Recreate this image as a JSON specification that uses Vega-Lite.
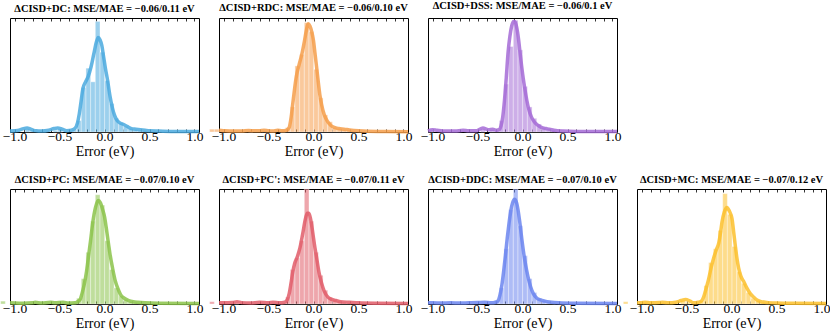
{
"$schema":"https://vega.github.io/schema/vega-lite/v6.json",
"padding":{"left":0,"top":0,"right":0,"bottom":0},
"background":"white",
"config":{
 "view":{"stroke":null},
 "style":{"guide-label":{"font":"Liberation Serif","fill":"black"},"guide-title":{"font":"Liberation Serif","fontWeight":"normal","fill":"black"}},
 "axis":{"grid":false,"domain":true,"domainColor":"black","domainWidth":1,"tickColor":"black","tickSize":-3,"tickWidth":0.8,"labelOverlap":false,"labelFlush":false},
 "axisLeft":{"labels":false,"ticks":false,"title":null},
 "axisRight":{"labels":false,"ticks":false,"title":null},
 "title":{"font":"Liberation Serif","fontSize":10.5,"fontWeight":"bold","color":"black","offset":3,"anchor":"middle"}
},
"datasets":{
"bars":[
{"p":"DC","x0":-0.882,"x1":-0.830,"h":2.5},{"p":"DC","x0":-0.830,"x1":-0.778,"h":1.5},{"p":"DC","x0":-0.570,"x1":-0.518,"h":1.5},{"p":"DC","x0":-0.518,"x1":-0.466,"h":2.5},{"p":"DC","x0":-0.362,"x1":-0.310,"h":2},{"p":"DC","x0":-0.310,"x1":-0.258,"h":10},{"p":"DC","x0":-0.258,"x1":-0.206,"h":39},{"p":"DC","x0":-0.206,"x1":-0.154,"h":56},{"p":"DC","x0":-0.154,"x1":-0.102,"h":44},{"p":"DC","x0":-0.102,"x1":-0.050,"h":97},{"p":"DC","x0":-0.050,"x1":0.002,"h":70},{"p":"DC","x0":0.002,"x1":0.054,"h":45},{"p":"DC","x0":0.054,"x1":0.106,"h":25},{"p":"DC","x0":0.106,"x1":0.158,"h":12},{"p":"DC","x0":0.158,"x1":0.210,"h":8},{"p":"DC","x0":0.210,"x1":0.262,"h":5},{"p":"DC","x0":0.262,"x1":0.314,"h":3},{"p":"DC","x0":0.314,"x1":0.366,"h":2},{"p":"DC","x0":0.366,"x1":0.418,"h":1.5},{"p":"DC","x0":0.418,"x1":0.470,"h":1},
{"p":"RDC","x0":-1.154,"x1":-1.102,"h":2.5},{"p":"RDC","x0":-1.102,"x1":-1.050,"h":2.5},{"p":"RDC","x0":-0.726,"x1":-0.674,"h":1},{"p":"RDC","x0":-0.570,"x1":-0.518,"h":1},{"p":"RDC","x0":-0.362,"x1":-0.310,"h":1.5},{"p":"RDC","x0":-0.310,"x1":-0.258,"h":4},{"p":"RDC","x0":-0.258,"x1":-0.206,"h":22},{"p":"RDC","x0":-0.206,"x1":-0.154,"h":58},{"p":"RDC","x0":-0.154,"x1":-0.102,"h":68},{"p":"RDC","x0":-0.102,"x1":-0.050,"h":96},{"p":"RDC","x0":-0.050,"x1":0.002,"h":88},{"p":"RDC","x0":0.002,"x1":0.054,"h":55},{"p":"RDC","x0":0.054,"x1":0.106,"h":30},{"p":"RDC","x0":0.106,"x1":0.158,"h":15},{"p":"RDC","x0":0.158,"x1":0.210,"h":9},{"p":"RDC","x0":0.210,"x1":0.262,"h":4},{"p":"RDC","x0":0.262,"x1":0.314,"h":3},{"p":"RDC","x0":0.314,"x1":0.366,"h":2},{"p":"RDC","x0":0.366,"x1":0.418,"h":2},{"p":"RDC","x0":0.418,"x1":0.470,"h":1},
{"p":"DSS","x0":-1.038,"x1":-0.986,"h":1.5},{"p":"DSS","x0":-0.466,"x1":-0.414,"h":2.5},{"p":"DSS","x0":-0.362,"x1":-0.310,"h":2},{"p":"DSS","x0":-0.310,"x1":-0.258,"h":1.5},{"p":"DSS","x0":-0.258,"x1":-0.206,"h":10},{"p":"DSS","x0":-0.206,"x1":-0.154,"h":42},{"p":"DSS","x0":-0.154,"x1":-0.102,"h":75},{"p":"DSS","x0":-0.102,"x1":-0.050,"h":98},{"p":"DSS","x0":-0.050,"x1":0.002,"h":72},{"p":"DSS","x0":0.002,"x1":0.054,"h":40},{"p":"DSS","x0":0.054,"x1":0.106,"h":22},{"p":"DSS","x0":0.106,"x1":0.158,"h":12},{"p":"DSS","x0":0.158,"x1":0.210,"h":7},{"p":"DSS","x0":0.210,"x1":0.262,"h":4},{"p":"DSS","x0":0.262,"x1":0.314,"h":3},{"p":"DSS","x0":0.314,"x1":0.366,"h":1.5},
{"p":"PC","x0":-1.154,"x1":-1.102,"h":2.5},{"p":"PC","x0":-0.362,"x1":-0.310,"h":1},{"p":"PC","x0":-0.310,"x1":-0.258,"h":5},{"p":"PC","x0":-0.258,"x1":-0.206,"h":22},{"p":"PC","x0":-0.206,"x1":-0.154,"h":45},{"p":"PC","x0":-0.154,"x1":-0.102,"h":72},{"p":"PC","x0":-0.102,"x1":-0.050,"h":95},{"p":"PC","x0":-0.050,"x1":0.002,"h":86},{"p":"PC","x0":0.002,"x1":0.054,"h":55},{"p":"PC","x0":0.054,"x1":0.106,"h":30},{"p":"PC","x0":0.106,"x1":0.158,"h":14},{"p":"PC","x0":0.158,"x1":0.210,"h":7},{"p":"PC","x0":0.210,"x1":0.262,"h":4},{"p":"PC","x0":0.262,"x1":0.314,"h":2},{"p":"PC","x0":0.314,"x1":0.366,"h":1.5},{"p":"PC","x0":0.366,"x1":0.418,"h":1},
{"p":"PC2","x0":-1.154,"x1":-1.102,"h":2},{"p":"PC2","x0":-0.882,"x1":-0.830,"h":1},{"p":"PC2","x0":-0.362,"x1":-0.310,"h":1},{"p":"PC2","x0":-0.310,"x1":-0.258,"h":6},{"p":"PC2","x0":-0.258,"x1":-0.206,"h":30},{"p":"PC2","x0":-0.206,"x1":-0.154,"h":40},{"p":"PC2","x0":-0.154,"x1":-0.102,"h":55},{"p":"PC2","x0":-0.102,"x1":-0.050,"h":100},{"p":"PC2","x0":-0.050,"x1":0.002,"h":72},{"p":"PC2","x0":0.002,"x1":0.054,"h":45},{"p":"PC2","x0":0.054,"x1":0.106,"h":25},{"p":"PC2","x0":0.106,"x1":0.158,"h":12},{"p":"PC2","x0":0.158,"x1":0.210,"h":6},{"p":"PC2","x0":0.210,"x1":0.262,"h":4},{"p":"PC2","x0":0.262,"x1":0.314,"h":2.5},{"p":"PC2","x0":0.314,"x1":0.366,"h":1.5},{"p":"PC2","x0":0.366,"x1":0.418,"h":1},
{"p":"DDC","x0":-0.362,"x1":-0.310,"h":1},{"p":"DDC","x0":-0.310,"x1":-0.258,"h":3},{"p":"DDC","x0":-0.258,"x1":-0.206,"h":14},{"p":"DDC","x0":-0.206,"x1":-0.154,"h":48},{"p":"DDC","x0":-0.154,"x1":-0.102,"h":82},{"p":"DDC","x0":-0.102,"x1":-0.050,"h":100},{"p":"DDC","x0":-0.050,"x1":0.002,"h":68},{"p":"DDC","x0":0.002,"x1":0.054,"h":42},{"p":"DDC","x0":0.054,"x1":0.106,"h":22},{"p":"DDC","x0":0.106,"x1":0.158,"h":10},{"p":"DDC","x0":0.158,"x1":0.210,"h":5},{"p":"DDC","x0":0.210,"x1":0.262,"h":3},{"p":"DDC","x0":0.262,"x1":0.314,"h":2},{"p":"DDC","x0":0.314,"x1":0.366,"h":1},
{"p":"MC","x0":-1.202,"x1":-1.150,"h":2},{"p":"MC","x0":-0.982,"x1":-0.930,"h":1},{"p":"MC","x0":-0.774,"x1":-0.722,"h":1},{"p":"MC","x0":-0.566,"x1":-0.514,"h":3},{"p":"MC","x0":-0.514,"x1":-0.462,"h":1.5},{"p":"MC","x0":-0.358,"x1":-0.306,"h":3},{"p":"MC","x0":-0.306,"x1":-0.254,"h":16},{"p":"MC","x0":-0.254,"x1":-0.202,"h":36},{"p":"MC","x0":-0.202,"x1":-0.150,"h":48},{"p":"MC","x0":-0.150,"x1":-0.098,"h":64},{"p":"MC","x0":-0.098,"x1":-0.046,"h":96},{"p":"MC","x0":-0.046,"x1":0.006,"h":78},{"p":"MC","x0":0.006,"x1":0.058,"h":50},{"p":"MC","x0":0.058,"x1":0.110,"h":28},{"p":"MC","x0":0.110,"x1":0.162,"h":18},{"p":"MC","x0":0.162,"x1":0.214,"h":10},{"p":"MC","x0":0.214,"x1":0.266,"h":5},{"p":"MC","x0":0.266,"x1":0.318,"h":3},{"p":"MC","x0":0.318,"x1":0.370,"h":1.5},{"p":"MC","x0":0.370,"x1":0.422,"h":1}
],
"kde":[
{"p":"DC","x":-1.05,"d":0.8},{"p":"DC","x":-1.0,"d":1},{"p":"DC","x":-0.95,"d":1.5},{"p":"DC","x":-0.9,"d":3},{"p":"DC","x":-0.86,"d":3.5},{"p":"DC","x":-0.82,"d":2.5},{"p":"DC","x":-0.76,"d":1},{"p":"DC","x":-0.7,"d":0.8},{"p":"DC","x":-0.62,"d":1.5},{"p":"DC","x":-0.56,"d":3},{"p":"DC","x":-0.52,"d":3.5},{"p":"DC","x":-0.47,"d":2.5},{"p":"DC","x":-0.42,"d":1.2},{"p":"DC","x":-0.37,"d":1.5},{"p":"DC","x":-0.33,"d":3},{"p":"DC","x":-0.3,"d":8},{"p":"DC","x":-0.28,"d":16},{"p":"DC","x":-0.26,"d":27},{"p":"DC","x":-0.24,"d":38},{"p":"DC","x":-0.21,"d":44},{"p":"DC","x":-0.18,"d":49},{"p":"DC","x":-0.15,"d":57},{"p":"DC","x":-0.12,"d":68},{"p":"DC","x":-0.09,"d":79},{"p":"DC","x":-0.07,"d":83},{"p":"DC","x":-0.05,"d":81},{"p":"DC","x":-0.03,"d":76},{"p":"DC","x":-0.01,"d":66},{"p":"DC","x":0.01,"d":56},{"p":"DC","x":0.035,"d":45},{"p":"DC","x":0.06,"d":32},{"p":"DC","x":0.085,"d":22},{"p":"DC","x":0.11,"d":15},{"p":"DC","x":0.14,"d":10},{"p":"DC","x":0.17,"d":8},{"p":"DC","x":0.2,"d":7},{"p":"DC","x":0.25,"d":5},{"p":"DC","x":0.3,"d":3},{"p":"DC","x":0.35,"d":2.5},{"p":"DC","x":0.4,"d":2},{"p":"DC","x":0.45,"d":1.5},{"p":"DC","x":0.5,"d":1},{"p":"DC","x":0.6,"d":0.8},{"p":"DC","x":0.8,"d":0.5},{"p":"DC","x":1.05,"d":0.5},
{"p":"RDC","x":-1.05,"d":1.5},{"p":"RDC","x":-1.0,"d":1.2},{"p":"RDC","x":-0.9,"d":0.8},{"p":"RDC","x":-0.8,"d":0.8},{"p":"RDC","x":-0.72,"d":1.3},{"p":"RDC","x":-0.66,"d":1},{"p":"RDC","x":-0.6,"d":1},{"p":"RDC","x":-0.55,"d":1.5},{"p":"RDC","x":-0.5,"d":1},{"p":"RDC","x":-0.45,"d":0.8},{"p":"RDC","x":-0.4,"d":1.5},{"p":"RDC","x":-0.35,"d":1},{"p":"RDC","x":-0.3,"d":1.5},{"p":"RDC","x":-0.27,"d":4},{"p":"RDC","x":-0.25,"d":12},{"p":"RDC","x":-0.23,"d":25},{"p":"RDC","x":-0.21,"d":38},{"p":"RDC","x":-0.19,"d":49},{"p":"RDC","x":-0.16,"d":59},{"p":"RDC","x":-0.13,"d":68},{"p":"RDC","x":-0.1,"d":80},{"p":"RDC","x":-0.08,"d":89},{"p":"RDC","x":-0.06,"d":95},{"p":"RDC","x":-0.04,"d":93},{"p":"RDC","x":-0.02,"d":88},{"p":"RDC","x":0.0,"d":80},{"p":"RDC","x":0.015,"d":70},{"p":"RDC","x":0.03,"d":60},{"p":"RDC","x":0.05,"d":46},{"p":"RDC","x":0.07,"d":33},{"p":"RDC","x":0.09,"d":24},{"p":"RDC","x":0.12,"d":15},{"p":"RDC","x":0.15,"d":10},{"p":"RDC","x":0.19,"d":6},{"p":"RDC","x":0.23,"d":4},{"p":"RDC","x":0.28,"d":3},{"p":"RDC","x":0.34,"d":2.5},{"p":"RDC","x":0.4,"d":1.8},{"p":"RDC","x":0.5,"d":1},{"p":"RDC","x":0.6,"d":0.6},{"p":"RDC","x":0.8,"d":0.4},{"p":"RDC","x":1.05,"d":0.3},
{"p":"DSS","x":-1.05,"d":1},{"p":"DSS","x":-1.0,"d":2},{"p":"DSS","x":-0.95,"d":1.5},{"p":"DSS","x":-0.85,"d":0.8},{"p":"DSS","x":-0.75,"d":0.8},{"p":"DSS","x":-0.66,"d":1.5},{"p":"DSS","x":-0.6,"d":1},{"p":"DSS","x":-0.52,"d":1},{"p":"DSS","x":-0.44,"d":3.5},{"p":"DSS","x":-0.38,"d":2},{"p":"DSS","x":-0.33,"d":2.5},{"p":"DSS","x":-0.29,"d":1.5},{"p":"DSS","x":-0.26,"d":2},{"p":"DSS","x":-0.24,"d":5},{"p":"DSS","x":-0.22,"d":13},{"p":"DSS","x":-0.2,"d":28},{"p":"DSS","x":-0.18,"d":48},{"p":"DSS","x":-0.16,"d":70},{"p":"DSS","x":-0.14,"d":84},{"p":"DSS","x":-0.12,"d":93},{"p":"DSS","x":-0.1,"d":97},{"p":"DSS","x":-0.085,"d":97},{"p":"DSS","x":-0.065,"d":92},{"p":"DSS","x":-0.045,"d":82},{"p":"DSS","x":-0.025,"d":68},{"p":"DSS","x":-0.01,"d":58},{"p":"DSS","x":0.01,"d":46},{"p":"DSS","x":0.03,"d":36},{"p":"DSS","x":0.05,"d":27},{"p":"DSS","x":0.07,"d":20},{"p":"DSS","x":0.1,"d":13},{"p":"DSS","x":0.13,"d":9},{"p":"DSS","x":0.17,"d":6},{"p":"DSS","x":0.21,"d":4},{"p":"DSS","x":0.26,"d":3},{"p":"DSS","x":0.3,"d":2.5},{"p":"DSS","x":0.35,"d":1.5},{"p":"DSS","x":0.45,"d":0.8},{"p":"DSS","x":0.6,"d":0.5},{"p":"DSS","x":1.05,"d":0.4},
{"p":"PC","x":-1.05,"d":1},{"p":"PC","x":-1.0,"d":0.8},{"p":"PC","x":-0.9,"d":0.6},{"p":"PC","x":-0.8,"d":1},{"p":"PC","x":-0.77,"d":1.5},{"p":"PC","x":-0.7,"d":0.8},{"p":"PC","x":-0.6,"d":1.5},{"p":"PC","x":-0.55,"d":1},{"p":"PC","x":-0.46,"d":1.5},{"p":"PC","x":-0.4,"d":0.8},{"p":"PC","x":-0.33,"d":1},{"p":"PC","x":-0.3,"d":2},{"p":"PC","x":-0.27,"d":4},{"p":"PC","x":-0.25,"d":9},{"p":"PC","x":-0.225,"d":17},{"p":"PC","x":-0.2,"d":28},{"p":"PC","x":-0.18,"d":40},{"p":"PC","x":-0.155,"d":55},{"p":"PC","x":-0.13,"d":71},{"p":"PC","x":-0.1,"d":84},{"p":"PC","x":-0.07,"d":90},{"p":"PC","x":-0.045,"d":88},{"p":"PC","x":-0.02,"d":82},{"p":"PC","x":0.0,"d":76},{"p":"PC","x":0.02,"d":66},{"p":"PC","x":0.036,"d":57},{"p":"PC","x":0.06,"d":44},{"p":"PC","x":0.09,"d":31},{"p":"PC","x":0.12,"d":20},{"p":"PC","x":0.147,"d":13.7},{"p":"PC","x":0.18,"d":8},{"p":"PC","x":0.22,"d":5},{"p":"PC","x":0.27,"d":3},{"p":"PC","x":0.32,"d":2},{"p":"PC","x":0.37,"d":1.5},{"p":"PC","x":0.45,"d":1},{"p":"PC","x":0.6,"d":0.6},{"p":"PC","x":1.05,"d":0.4},
{"p":"PC2","x":-1.05,"d":1},{"p":"PC2","x":-1.0,"d":1},{"p":"PC2","x":-0.9,"d":1.2},{"p":"PC2","x":-0.85,"d":2},{"p":"PC2","x":-0.8,"d":1.2},{"p":"PC2","x":-0.7,"d":0.8},{"p":"PC2","x":-0.6,"d":1.5},{"p":"PC2","x":-0.5,"d":1},{"p":"PC2","x":-0.45,"d":1.5},{"p":"PC2","x":-0.38,"d":1},{"p":"PC2","x":-0.32,"d":1.5},{"p":"PC2","x":-0.29,"d":4},{"p":"PC2","x":-0.27,"d":9},{"p":"PC2","x":-0.25,"d":18},{"p":"PC2","x":-0.23,"d":28},{"p":"PC2","x":-0.21,"d":35},{"p":"PC2","x":-0.18,"d":41},{"p":"PC2","x":-0.15,"d":49},{"p":"PC2","x":-0.12,"d":61},{"p":"PC2","x":-0.09,"d":74},{"p":"PC2","x":-0.07,"d":79},{"p":"PC2","x":-0.05,"d":79},{"p":"PC2","x":-0.03,"d":73},{"p":"PC2","x":-0.01,"d":63},{"p":"PC2","x":0.01,"d":52},{"p":"PC2","x":0.035,"d":40},{"p":"PC2","x":0.06,"d":28},{"p":"PC2","x":0.09,"d":18},{"p":"PC2","x":0.12,"d":11},{"p":"PC2","x":0.16,"d":6},{"p":"PC2","x":0.2,"d":4},{"p":"PC2","x":0.25,"d":3},{"p":"PC2","x":0.3,"d":2},{"p":"PC2","x":0.4,"d":1.5},{"p":"PC2","x":0.5,"d":1},{"p":"PC2","x":0.7,"d":0.6},{"p":"PC2","x":1.05,"d":0.4},
{"p":"DDC","x":-1.05,"d":1},{"p":"DDC","x":-1.0,"d":1},{"p":"DDC","x":-0.9,"d":0.8},{"p":"DDC","x":-0.8,"d":1},{"p":"DDC","x":-0.7,"d":0.8},{"p":"DDC","x":-0.6,"d":1},{"p":"DDC","x":-0.5,"d":1.2},{"p":"DDC","x":-0.42,"d":1.5},{"p":"DDC","x":-0.35,"d":1},{"p":"DDC","x":-0.3,"d":1.5},{"p":"DDC","x":-0.27,"d":3},{"p":"DDC","x":-0.25,"d":8},{"p":"DDC","x":-0.23,"d":16},{"p":"DDC","x":-0.21,"d":28},{"p":"DDC","x":-0.19,"d":42},{"p":"DDC","x":-0.17,"d":57},{"p":"DDC","x":-0.15,"d":70},{"p":"DDC","x":-0.13,"d":81},{"p":"DDC","x":-0.11,"d":88},{"p":"DDC","x":-0.09,"d":91},{"p":"DDC","x":-0.07,"d":89},{"p":"DDC","x":-0.05,"d":82},{"p":"DDC","x":-0.03,"d":71},{"p":"DDC","x":-0.01,"d":58},{"p":"DDC","x":0.01,"d":46},{"p":"DDC","x":0.03,"d":36},{"p":"DDC","x":0.06,"d":24},{"p":"DDC","x":0.09,"d":15},{"p":"DDC","x":0.12,"d":9},{"p":"DDC","x":0.16,"d":5},{"p":"DDC","x":0.2,"d":3.5},{"p":"DDC","x":0.25,"d":2.5},{"p":"DDC","x":0.3,"d":1.8},{"p":"DDC","x":0.4,"d":1},{"p":"DDC","x":0.6,"d":0.6},{"p":"DDC","x":1.05,"d":0.4},
{"p":"MC","x":-1.05,"d":1},{"p":"MC","x":-1.0,"d":1.2},{"p":"MC","x":-0.96,"d":1.5},{"p":"MC","x":-0.9,"d":1},{"p":"MC","x":-0.8,"d":1.2},{"p":"MC","x":-0.77,"d":1.5},{"p":"MC","x":-0.7,"d":1},{"p":"MC","x":-0.62,"d":1.5},{"p":"MC","x":-0.56,"d":3},{"p":"MC","x":-0.51,"d":4},{"p":"MC","x":-0.46,"d":2.5},{"p":"MC","x":-0.42,"d":1},{"p":"MC","x":-0.37,"d":1.5},{"p":"MC","x":-0.335,"d":2.5},{"p":"MC","x":-0.31,"d":6},{"p":"MC","x":-0.28,"d":14},{"p":"MC","x":-0.253,"d":22},{"p":"MC","x":-0.225,"d":32},{"p":"MC","x":-0.198,"d":40},{"p":"MC","x":-0.17,"d":47},{"p":"MC","x":-0.142,"d":53},{"p":"MC","x":-0.12,"d":63},{"p":"MC","x":-0.106,"d":71},{"p":"MC","x":-0.08,"d":80},{"p":"MC","x":-0.05,"d":84},{"p":"MC","x":-0.025,"d":81},{"p":"MC","x":0.006,"d":74},{"p":"MC","x":0.025,"d":62},{"p":"MC","x":0.042,"d":51},{"p":"MC","x":0.06,"d":40},{"p":"MC","x":0.08,"d":31},{"p":"MC","x":0.105,"d":24},{"p":"MC","x":0.136,"d":19.5},{"p":"MC","x":0.17,"d":14},{"p":"MC","x":0.209,"d":9},{"p":"MC","x":0.245,"d":6},{"p":"MC","x":0.283,"d":3.5},{"p":"MC","x":0.33,"d":2},{"p":"MC","x":0.41,"d":1.2},{"p":"MC","x":0.5,"d":0.8},{"p":"MC","x":0.7,"d":0.6},{"p":"MC","x":1.05,"d":0.5}
]
},
"columns":4,
"spacing":{"row":57,"column":20},
"bounds":"flush",
"concat":[
 {"width":189,"height":114,"title":"ΔCISD+DC: MSE/MAE = −0.06/0.11 eV","resolve":{"axis":{"x":"independent","y":"independent"}},"layer":[
  {"data":{"name":"bars"},"transform":[{"filter":"datum.p=='DC'"}],"mark":{"type":"rect","color":"#4aa9de","fillOpacity":0.55,"stroke":"white","strokeWidth":0.6,"strokeOpacity":0.6},
   "encoding":{"x":{"field":"x0","type":"quantitative","scale":{"domain":[-1.05,1.05],"nice":false,"zero":false},"axis":{"orient":"bottom","values":[-1,-0.9,-0.8,-0.7,-0.6,-0.5,-0.4,-0.3,-0.2,-0.1,0,0.1,0.2,0.3,0.4,0.5,0.6,0.7,0.8,0.9,1],"labelExpr":"abs(datum.value*2-round(datum.value*2))<0.001 ? format(datum.value,'.1f') : ''","labelFontSize":13.5,"labelPadding":0,"titleFontSize":14,"titlePadding":2,"title":"Error (eV)"}},"x2":{"field":"x1"},"y":{"field":"h","type":"quantitative","scale":{"domain":[0,100],"nice":false},"axis":{"orient":"left"}},"y2":{"datum":0}}},
  {"data":{"name":"kde"},"transform":[{"filter":"datum.p=='DC'"}],"mark":{"type":"line","color":"#4aa9de","strokeWidth":3.5,"opacity":0.85,"interpolate":"monotone"},
   "encoding":{"x":{"field":"x","type":"quantitative","axis":{"orient":"top","values":[-1,-0.9,-0.8,-0.7,-0.6,-0.5,-0.4,-0.3,-0.2,-0.1,0,0.1,0.2,0.3,0.4,0.5,0.6,0.7,0.8,0.9,1],"labels":false,"title":null}},"y":{"field":"d","type":"quantitative","axis":{"orient":"right"}}}}
 ]},
 {"width":189,"height":114,"title":"ΔCISD+RDC: MSE/MAE = −0.06/0.10 eV","resolve":{"axis":{"x":"independent","y":"independent"}},"layer":[
  {"data":{"name":"bars"},"transform":[{"filter":"datum.p=='RDC'"}],"mark":{"type":"rect","color":"#f59d4a","fillOpacity":0.55,"stroke":"white","strokeWidth":0.6,"strokeOpacity":0.6},
   "encoding":{"x":{"field":"x0","type":"quantitative","scale":{"domain":[-1.05,1.05],"nice":false,"zero":false},"axis":{"orient":"bottom","values":[-1,-0.9,-0.8,-0.7,-0.6,-0.5,-0.4,-0.3,-0.2,-0.1,0,0.1,0.2,0.3,0.4,0.5,0.6,0.7,0.8,0.9,1],"labelExpr":"abs(datum.value*2-round(datum.value*2))<0.001 ? format(datum.value,'.1f') : ''","labelFontSize":13.5,"labelPadding":0,"titleFontSize":14,"titlePadding":2,"title":"Error (eV)"}},"x2":{"field":"x1"},"y":{"field":"h","type":"quantitative","scale":{"domain":[0,100],"nice":false},"axis":{"orient":"left"}},"y2":{"datum":0}}},
  {"data":{"name":"kde"},"transform":[{"filter":"datum.p=='RDC'"}],"mark":{"type":"line","color":"#f59d4a","strokeWidth":3.5,"opacity":0.85,"interpolate":"monotone"},
   "encoding":{"x":{"field":"x","type":"quantitative","axis":{"orient":"top","values":[-1,-0.9,-0.8,-0.7,-0.6,-0.5,-0.4,-0.3,-0.2,-0.1,0,0.1,0.2,0.3,0.4,0.5,0.6,0.7,0.8,0.9,1],"labels":false,"title":null}},"y":{"field":"d","type":"quantitative","axis":{"orient":"right"}}}}
 ]},
 {"width":189,"height":114,"title":"ΔCISD+DSS: MSE/MAE = −0.06/0.1 eV","resolve":{"axis":{"x":"independent","y":"independent"}},"layer":[
  {"data":{"name":"bars"},"transform":[{"filter":"datum.p=='DSS'"}],"mark":{"type":"rect","color":"#a46bd6","fillOpacity":0.55,"stroke":"white","strokeWidth":0.6,"strokeOpacity":0.6},
   "encoding":{"x":{"field":"x0","type":"quantitative","scale":{"domain":[-1.05,1.05],"nice":false,"zero":false},"axis":{"orient":"bottom","values":[-1,-0.9,-0.8,-0.7,-0.6,-0.5,-0.4,-0.3,-0.2,-0.1,0,0.1,0.2,0.3,0.4,0.5,0.6,0.7,0.8,0.9,1],"labelExpr":"abs(datum.value*2-round(datum.value*2))<0.001 ? format(datum.value,'.1f') : ''","labelFontSize":13.5,"labelPadding":0,"titleFontSize":14,"titlePadding":2,"title":"Error (eV)"}},"x2":{"field":"x1"},"y":{"field":"h","type":"quantitative","scale":{"domain":[0,100],"nice":false},"axis":{"orient":"left"}},"y2":{"datum":0}}},
  {"data":{"name":"kde"},"transform":[{"filter":"datum.p=='DSS'"}],"mark":{"type":"line","color":"#a46bd6","strokeWidth":3.5,"opacity":0.85,"interpolate":"monotone"},
   "encoding":{"x":{"field":"x","type":"quantitative","axis":{"orient":"top","values":[-1,-0.9,-0.8,-0.7,-0.6,-0.5,-0.4,-0.3,-0.2,-0.1,0,0.1,0.2,0.3,0.4,0.5,0.6,0.7,0.8,0.9,1],"labels":false,"title":null}},"y":{"field":"d","type":"quantitative","axis":{"orient":"right"}}}}
 ]},
 {"width":189,"height":114,"data":{"values":[]},"mark":{"type":"point","opacity":0},"encoding":{}},
 {"width":189,"height":115,"title":"ΔCISD+PC: MSE/MAE = −0.07/0.10 eV","resolve":{"axis":{"x":"independent","y":"independent"}},"layer":[
  {"data":{"name":"bars"},"transform":[{"filter":"datum.p=='PC'"}],"mark":{"type":"rect","color":"#8bc34a","fillOpacity":0.55,"stroke":"white","strokeWidth":0.6,"strokeOpacity":0.6},
   "encoding":{"x":{"field":"x0","type":"quantitative","scale":{"domain":[-1.05,1.05],"nice":false,"zero":false},"axis":{"orient":"bottom","values":[-1,-0.9,-0.8,-0.7,-0.6,-0.5,-0.4,-0.3,-0.2,-0.1,0,0.1,0.2,0.3,0.4,0.5,0.6,0.7,0.8,0.9,1],"labelExpr":"abs(datum.value*2-round(datum.value*2))<0.001 ? format(datum.value,'.1f') : ''","labelFontSize":13.5,"labelPadding":0,"titleFontSize":14,"titlePadding":2,"title":"Error (eV)"}},"x2":{"field":"x1"},"y":{"field":"h","type":"quantitative","scale":{"domain":[0,100],"nice":false},"axis":{"orient":"left"}},"y2":{"datum":0}}},
  {"data":{"name":"kde"},"transform":[{"filter":"datum.p=='PC'"}],"mark":{"type":"line","color":"#8bc34a","strokeWidth":3.5,"opacity":0.85,"interpolate":"monotone"},
   "encoding":{"x":{"field":"x","type":"quantitative","axis":{"orient":"top","values":[-1,-0.9,-0.8,-0.7,-0.6,-0.5,-0.4,-0.3,-0.2,-0.1,0,0.1,0.2,0.3,0.4,0.5,0.6,0.7,0.8,0.9,1],"labels":false,"title":null}},"y":{"field":"d","type":"quantitative","axis":{"orient":"right"}}}}
 ]},
 {"width":189,"height":115,"title":"ΔCISD+PC': MSE/MAE = −0.07/0.11 eV","resolve":{"axis":{"x":"independent","y":"independent"}},"layer":[
  {"data":{"name":"bars"},"transform":[{"filter":"datum.p=='PC2'"}],"mark":{"type":"rect","color":"#e05c68","fillOpacity":0.55,"stroke":"white","strokeWidth":0.6,"strokeOpacity":0.6},
   "encoding":{"x":{"field":"x0","type":"quantitative","scale":{"domain":[-1.05,1.05],"nice":false,"zero":false},"axis":{"orient":"bottom","values":[-1,-0.9,-0.8,-0.7,-0.6,-0.5,-0.4,-0.3,-0.2,-0.1,0,0.1,0.2,0.3,0.4,0.5,0.6,0.7,0.8,0.9,1],"labelExpr":"abs(datum.value*2-round(datum.value*2))<0.001 ? format(datum.value,'.1f') : ''","labelFontSize":13.5,"labelPadding":0,"titleFontSize":14,"titlePadding":2,"title":"Error (eV)"}},"x2":{"field":"x1"},"y":{"field":"h","type":"quantitative","scale":{"domain":[0,100],"nice":false},"axis":{"orient":"left"}},"y2":{"datum":0}}},
  {"data":{"name":"kde"},"transform":[{"filter":"datum.p=='PC2'"}],"mark":{"type":"line","color":"#e05c68","strokeWidth":3.5,"opacity":0.85,"interpolate":"monotone"},
   "encoding":{"x":{"field":"x","type":"quantitative","axis":{"orient":"top","values":[-1,-0.9,-0.8,-0.7,-0.6,-0.5,-0.4,-0.3,-0.2,-0.1,0,0.1,0.2,0.3,0.4,0.5,0.6,0.7,0.8,0.9,1],"labels":false,"title":null}},"y":{"field":"d","type":"quantitative","axis":{"orient":"right"}}}}
 ]},
 {"width":189,"height":115,"title":"ΔCISD+DDC: MSE/MAE = −0.07/0.10 eV","resolve":{"axis":{"x":"independent","y":"independent"}},"layer":[
  {"data":{"name":"bars"},"transform":[{"filter":"datum.p=='DDC'"}],"mark":{"type":"rect","color":"#6b85ef","fillOpacity":0.55,"stroke":"white","strokeWidth":0.6,"strokeOpacity":0.6},
   "encoding":{"x":{"field":"x0","type":"quantitative","scale":{"domain":[-1.05,1.05],"nice":false,"zero":false},"axis":{"orient":"bottom","values":[-1,-0.9,-0.8,-0.7,-0.6,-0.5,-0.4,-0.3,-0.2,-0.1,0,0.1,0.2,0.3,0.4,0.5,0.6,0.7,0.8,0.9,1],"labelExpr":"abs(datum.value*2-round(datum.value*2))<0.001 ? format(datum.value,'.1f') : ''","labelFontSize":13.5,"labelPadding":0,"titleFontSize":14,"titlePadding":2,"title":"Error (eV)"}},"x2":{"field":"x1"},"y":{"field":"h","type":"quantitative","scale":{"domain":[0,100],"nice":false},"axis":{"orient":"left"}},"y2":{"datum":0}}},
  {"data":{"name":"kde"},"transform":[{"filter":"datum.p=='DDC'"}],"mark":{"type":"line","color":"#6b85ef","strokeWidth":3.5,"opacity":0.85,"interpolate":"monotone"},
   "encoding":{"x":{"field":"x","type":"quantitative","axis":{"orient":"top","values":[-1,-0.9,-0.8,-0.7,-0.6,-0.5,-0.4,-0.3,-0.2,-0.1,0,0.1,0.2,0.3,0.4,0.5,0.6,0.7,0.8,0.9,1],"labels":false,"title":null}},"y":{"field":"d","type":"quantitative","axis":{"orient":"right"}}}}
 ]},
 {"width":189,"height":115,"title":"ΔCISD+MC: MSE/MAE = −0.07/0.12 eV","resolve":{"axis":{"x":"independent","y":"independent"}},"layer":[
  {"data":{"name":"bars"},"transform":[{"filter":"datum.p=='MC'"}],"mark":{"type":"rect","color":"#fbbf2c","fillOpacity":0.55,"stroke":"white","strokeWidth":0.6,"strokeOpacity":0.6},
   "encoding":{"x":{"field":"x0","type":"quantitative","scale":{"domain":[-1.05,1.05],"nice":false,"zero":false},"axis":{"orient":"bottom","values":[-1,-0.9,-0.8,-0.7,-0.6,-0.5,-0.4,-0.3,-0.2,-0.1,0,0.1,0.2,0.3,0.4,0.5,0.6,0.7,0.8,0.9,1],"labelExpr":"abs(datum.value*2-round(datum.value*2))<0.001 ? format(datum.value,'.1f') : ''","labelFontSize":13.5,"labelPadding":0,"titleFontSize":14,"titlePadding":2,"title":"Error (eV)"}},"x2":{"field":"x1"},"y":{"field":"h","type":"quantitative","scale":{"domain":[0,100],"nice":false},"axis":{"orient":"left"}},"y2":{"datum":0}}},
  {"data":{"name":"kde"},"transform":[{"filter":"datum.p=='MC'"}],"mark":{"type":"line","color":"#fbbf2c","strokeWidth":3.5,"opacity":0.85,"interpolate":"monotone"},
   "encoding":{"x":{"field":"x","type":"quantitative","axis":{"orient":"top","values":[-1,-0.9,-0.8,-0.7,-0.6,-0.5,-0.4,-0.3,-0.2,-0.1,0,0.1,0.2,0.3,0.4,0.5,0.6,0.7,0.8,0.9,1],"labels":false,"title":null}},"y":{"field":"d","type":"quantitative","axis":{"orient":"right"}}}}
 ]}
]
}
